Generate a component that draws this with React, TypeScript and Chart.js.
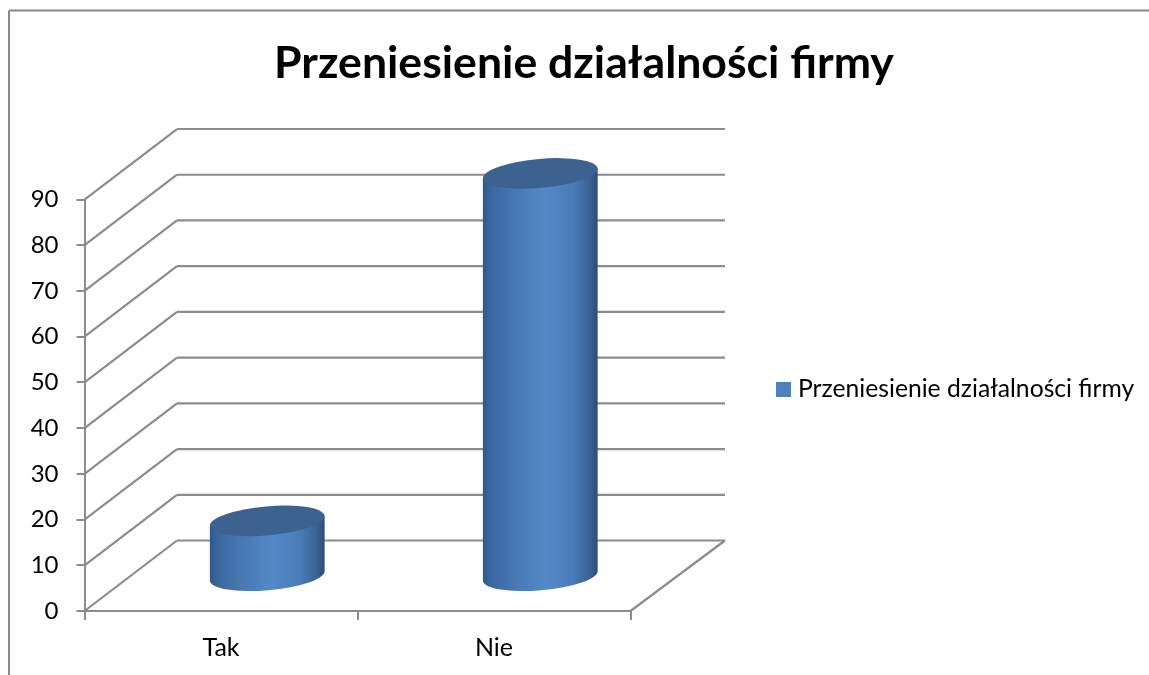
import React, { useEffect, useRef } from "react";
import { Chart, registerables } from "chart.js";

Chart.register(...registerables);

const categories = ["Tak", "Nie"];
const seriesName = "Przeniesienie działalności firmy";
const values = [12, 88];
const yMax = 90;
const yStep = 10;
const titleText = "Przeniesienie działalności firmy";

const FONT = "Lato, 'Open Sans', sans-serif";
const LINE = "#8c8c8c";
const DEPTH_Y = 70.5;
const DEPTH_X_LEFT = 92.5;
const DEPTH_X_RIGHT = 94.5;

function seg(ctx: CanvasRenderingContext2D, x1: number, y1: number, x2: number, y2: number) {
  ctx.beginPath();
  ctx.moveTo(x1, y1);
  ctx.lineTo(x2, y2);
  ctx.stroke();
}

const box3d = {
  id: "box3d",
  afterLayout(chart: any) {
    const lg = chart.legend;
    const w = lg.width;
    const h = lg.height;
    lg.left = 771.35;
    lg.right = 771.35 + w + 20;
    lg.top = 389 - h / 2;
    lg.bottom = 389 + h / 2;
    chart.titleBlock.left = 19;
    chart.titleBlock.right = 1149;
  },
  beforeDraw(chart: any) {
    const { ctx } = chart;
    ctx.save();
    ctx.strokeStyle = "#8a8a8a";
    ctx.lineWidth = 2;
    seg(ctx, 9, 675, 9, 10.5);
    seg(ctx, 9, 10.5, 1149, 10.5);
    ctx.restore();
  },
  beforeDatasetsDraw(chart: any) {
    const { ctx, scales } = chart;
    const { x, y } = scales;
    ctx.save();
    ctx.strokeStyle = LINE;
    ctx.lineWidth = 2.2;
    for (let v = 0; v <= yMax; v += yStep) {
      const py = y.getPixelForValue(v);
      seg(ctx, x.left, py, x.left + DEPTH_X_LEFT, py - DEPTH_Y);
      seg(ctx, x.left + DEPTH_X_LEFT, py - DEPTH_Y, x.right + DEPTH_X_RIGHT, py - DEPTH_Y);
    }
    const b = y.getPixelForValue(0);
    seg(ctx, x.right, b, x.right + DEPTH_X_RIGHT, b - DEPTH_Y);
    ctx.restore();
  },
  beforeDatasetDraw() {
    return false;
  },
  afterDatasetsDraw(chart: any) {
    const { ctx, scales } = chart;
    const meta = chart.getDatasetMeta(0);
    const tilt = (-5 * Math.PI) / 180;
    const baseY = scales.y.getPixelForValue(0);
    const shift = (DEPTH_X_LEFT + DEPTH_X_RIGHT) / 4;
    meta.data.forEach((bar: any) => {
      const cx = bar.x + shift - 0.5;
      const rx = bar.width / 2;
      const ry = 14.5;
      const bottom = baseY - DEPTH_Y / 2;
      const top = bar.y - DEPTH_Y / 2;
      const dy = rx * Math.sin(tilt);
      const ex = rx * Math.cos(tilt);
      const g = ctx.createLinearGradient(cx - ex, 0, cx + ex, 0);
      g.addColorStop(0, "#315888");
      g.addColorStop(0.06, "#3a669e");
      g.addColorStop(0.25, "#4676b1");
      g.addColorStop(0.55, "#5389c8");
      g.addColorStop(0.78, "#4a7cb8");
      g.addColorStop(0.93, "#3a6293");
      g.addColorStop(1, "#2e4c78");
      ctx.save();
      ctx.fillStyle = g;
      ctx.beginPath();
      ctx.ellipse(cx, bottom, rx, ry, tilt, 0, Math.PI);
      ctx.lineTo(cx - ex, top - dy);
      ctx.lineTo(cx + ex, top + dy);
      ctx.lineTo(cx + ex, bottom + dy);
      ctx.closePath();
      ctx.fill();
      ctx.fillStyle = "#3c6290";
      ctx.beginPath();
      ctx.ellipse(cx, top, rx, ry, tilt, 0, Math.PI * 2);
      ctx.fill();
      ctx.restore();
    });
  },
};

export default function App() {
  const ref = useRef<HTMLCanvasElement>(null);
  useEffect(() => {
    const swatch = document.createElement("canvas");
    swatch.width = 15;
    swatch.height = 15;
    const sc = swatch.getContext("2d")!;
    sc.fillStyle = "#4f81bd";
    sc.fillRect(0, 0, 15, 15);
    const chart = new Chart(ref.current!, {
      type: "bar",
      data: {
        labels: categories,
        datasets: [
          {
            label: seriesName,
            data: values,
            backgroundColor: "#4f81bd",
            barPercentage: 0.422,
            categoryPercentage: 1,
          },
        ],
      },
      plugins: [box3d],
      options: {
        animation: false,
        responsive: false,
        layout: { padding: { left: 0, right: 518.5, top: 0, bottom: 0 } },
        plugins: {
          tooltip: { enabled: false },
          title: {
            display: true,
            text: titleText,
            color: "#000",
            font: { family: FONT, size: 44.6, weight: "bold", lineHeight: 1.2 },
            padding: { top: 37, bottom: 109 },
          },
          legend: {
            display: true,
            position: "chartArea",
            labels: {
              color: "#000",
              font: { family: FONT, size: 24.7 },
              usePointStyle: true,
              pointStyle: swatch,
              boxWidth: 4.3,
              boxHeight: 15,
              padding: 10,
            },
          },
        },
        scales: {
          x: {
            afterFit: (s: any) => {
              s.height = 64;
            },
            border: { color: LINE, width: 2 },
            grid: { drawOnChartArea: false, color: LINE, lineWidth: 2, tickLength: 9 },
            ticks: { color: "#000", font: { family: FONT, size: 25 }, padding: 13, maxRotation: 0 },
          },
          y: {
            min: 0,
            max: yMax,
            afterFit: (s: any) => {
              s.width = 84.5;
            },
            border: { color: LINE, width: 2 },
            grid: { drawOnChartArea: false, color: LINE, lineWidth: 2, tickLength: 8 },
            ticks: { stepSize: yStep, color: "#000", font: { family: FONT, size: 24 }, padding: 18 },
          },
        },
      } as any,
    });
    return () => chart.destroy();
  }, []);
  return (
    <canvas
      ref={ref}
      width={1149}
      height={675}
      style={{ position: "absolute", left: 0, top: 0, display: "block" }}
    />
  );
}
